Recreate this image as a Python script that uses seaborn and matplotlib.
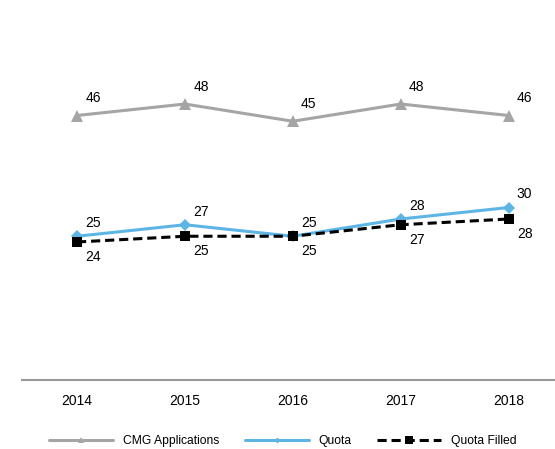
"""CMG applications vs quota, 2014-2018."""

import matplotlib

matplotlib.use("Agg")

import matplotlib.pyplot as plt
import pandas as pd
import seaborn as sns
from matplotlib.lines import Line2D

years = ["2014", "2015", "2016", "2017", "2018"]
cmg_applications = [46, 48, 45, 48, 46]
quota = [25, 27, 25, 28, 30]
quota_filled = [24, 25, 25, 27, 28]

GRAY = "#A5A5A5"
BLUE = "#5DB5E5"
BLACK = "#000000"
DASH = (0, (3, 1.6))


def main() -> None:
    sns.set_theme(style="white")
    plt.rcParams["font.family"] = ["Liberation Sans", "DejaVu Sans"]
    plt.rcParams["text.color"] = "black"
    plt.rcParams["xtick.color"] = "black"

    df = pd.DataFrame({
        "idx": range(len(years)),
        "CMG Applications": cmg_applications,
        "Quota": quota,
        "Quota Filled": quota_filled,
    })

    fig = plt.figure(figsize=(5.55, 4.49), dpi=100)
    ax = fig.add_axes([22 / 555, 69 / 449, 533 / 555, 345 / 449])

    sns.lineplot(data=df, x="idx", y="CMG Applications", ax=ax, color=GRAY,
                 linewidth=2.2, marker="^", markersize=8, markeredgewidth=0)
    sns.lineplot(data=df, x="idx", y="Quota", ax=ax, color=BLUE,
                 linewidth=2.2, marker="D", markersize=6, markeredgewidth=0)
    sns.lineplot(data=df, x="idx", y="Quota Filled", ax=ax, color=BLACK,
                 linewidth=2.2, marker="s", markersize=7, markeredgewidth=0,
                 linestyle=DASH)

    fs = 10
    for i in range(len(years)):
        ax.annotate(str(cmg_applications[i]), (i, cmg_applications[i]),
                    xytext=(16, 17), textcoords="offset pixels",
                    ha="center", va="center", fontsize=fs, color="black")
        ax.annotate(str(quota[i]), (i, quota[i]),
                    xytext=(16, 13), textcoords="offset pixels",
                    ha="center", va="center", fontsize=fs, color="black")
        ax.annotate(str(quota_filled[i]), (i, quota_filled[i]),
                    xytext=(16, -15), textcoords="offset pixels",
                    ha="center", va="center", fontsize=fs, color="black")

    ax.set_xlim(-0.51, 4.43)
    ax.set_ylim(0, 60)
    ax.set_xticks(range(len(years)))
    ax.set_xticklabels(years, fontsize=fs, color="black")
    ax.set_yticks([])
    ax.set_xlabel("")
    ax.set_ylabel("")
    ax.tick_params(axis="x", length=0, pad=10)
    for side in ["top", "right", "left"]:
        ax.spines[side].set_visible(False)
    ax.spines["bottom"].set_color("#999999")
    ax.spines["bottom"].set_linewidth(1.5)

    handles = [
        Line2D([], [], color=GRAY, linewidth=2.2, marker="^", markersize=4,
               markeredgewidth=0),
        Line2D([], [], color=BLUE, linewidth=2.2, marker="D", markersize=3,
               markeredgewidth=0),
        Line2D([], [], color=BLACK, linewidth=2.2, marker="s", markersize=6,
               markeredgewidth=0, linestyle=DASH),
    ]
    labels = ["CMG Applications", "Quota", "Quota Filled"]
    leg = ax.legend(handles, labels, loc="center", bbox_to_anchor=(0.489, -0.178),
                    ncol=3, frameon=False, fontsize=8.7, handlelength=5.3,
                    handletextpad=0.8, columnspacing=2.1)
    for t in leg.get_texts():
        t.set_color("black")

    fig.savefig("out.png", dpi=100)
    plt.close(fig)


if __name__ == "__main__":
    main()
